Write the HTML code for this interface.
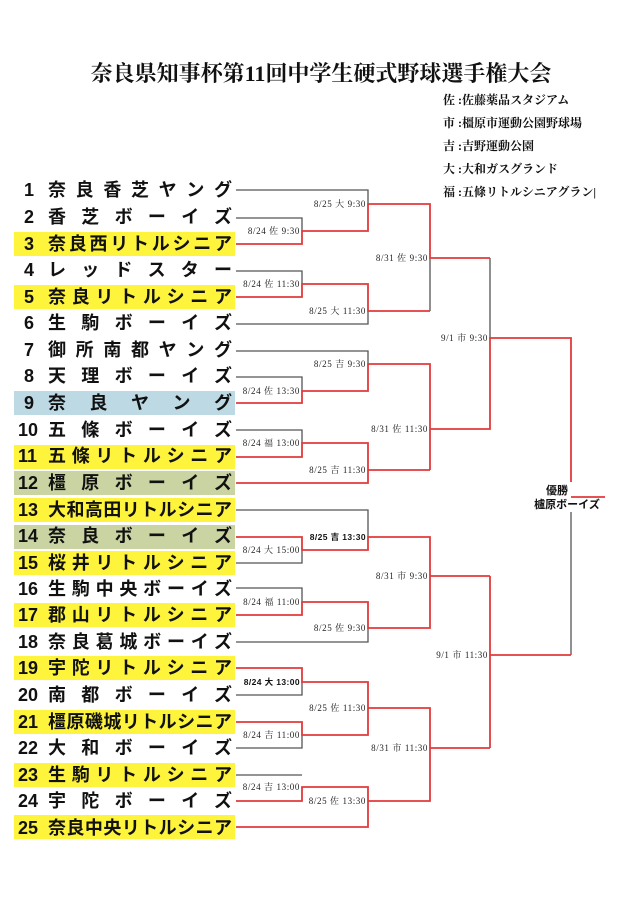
<!DOCTYPE html>
<html><head><meta charset="utf-8"><style>
html,body{margin:0;padding:0;background:#fff}
svg{display:block}
.t{font-family:"Liberation Sans","Noto Sans CJK JP",sans-serif;font-weight:bold;font-size:18px;fill:#111}
.l{font-family:"Liberation Serif","Noto Serif CJK SC",serif;font-size:9px;fill:#222;letter-spacing:0.6px}
.b{font-family:"Liberation Sans","Noto Sans CJK JP",sans-serif;font-size:8.5px;font-weight:bold;fill:#111;letter-spacing:0.4px}
.g{fill:none;stroke:#555;stroke-width:1.3}
.r{fill:none;stroke:#e23a3a;stroke-width:1.8}
</style></head><body>
<svg width="640" height="906" viewBox="0 0 640 906" xmlns="http://www.w3.org/2000/svg">
<text x="321" y="81" text-anchor="middle" font-family="'Liberation Serif','Noto Serif CJK SC',serif" font-size="22" font-weight="bold" fill="#111">奈良県知事杯第11回中学生硬式野球選手権大会</text>
<g font-family="'Liberation Serif','Noto Serif CJK SC',serif" font-size="12" font-weight="bold" fill="#111">
<text x="443" y="104">佐 :佐藤薬品スタジアム</text>
<text x="443" y="127">市 :橿原市運動公園野球場</text>
<text x="443" y="150">吉 :吉野運動公園</text>
<text x="443" y="173">大 :大和ガスグランド</text>
<text x="443" y="196">福 :五條リトルシニアグラン|</text>
</g>
<g>
<rect x="14" y="232" width="221" height="24" fill="#fff43c"/>
<rect x="14" y="285" width="221" height="24" fill="#fff43c"/>
<rect x="14" y="391" width="221" height="24" fill="#bcd9e4"/>
<rect x="14" y="445" width="221" height="24" fill="#fff43c"/>
<rect x="14" y="471" width="221" height="24" fill="#c9d4a2"/>
<rect x="14" y="498" width="221" height="24" fill="#fff43c"/>
<rect x="14" y="525" width="221" height="24" fill="#c9d4a2"/>
<rect x="14" y="551" width="221" height="24" fill="#fff43c"/>
<rect x="14" y="603" width="221" height="24" fill="#fff43c"/>
<rect x="14" y="656" width="221" height="24" fill="#fff43c"/>
<rect x="14" y="710" width="221" height="24" fill="#fff43c"/>
<rect x="14" y="763" width="221" height="24" fill="#fff43c"/>
<rect x="14" y="815" width="221" height="24" fill="#fff43c"/>
</g>
<g class="t" dominant-baseline="central">
<text x="24" y="190">1</text><text x="48" y="190" textLength="184" lengthAdjust="spacing">奈良香芝ヤング</text>
<text x="24" y="217">2</text><text x="48" y="217" textLength="184" lengthAdjust="spacing">香芝ボーイズ</text>
<text x="24" y="244">3</text><text x="48" y="244" textLength="184" lengthAdjust="spacing">奈良西リトルシニア</text>
<text x="24" y="270">4</text><text x="48" y="270" textLength="184" lengthAdjust="spacing">レッドスター</text>
<text x="24" y="297">5</text><text x="48" y="297" textLength="184" lengthAdjust="spacing">奈良リトルシニア</text>
<text x="24" y="323">6</text><text x="48" y="323" textLength="184" lengthAdjust="spacing">生駒ボーイズ</text>
<text x="24" y="350">7</text><text x="48" y="350" textLength="184" lengthAdjust="spacing">御所南都ヤング</text>
<text x="24" y="376">8</text><text x="48" y="376" textLength="184" lengthAdjust="spacing">天理ボーイズ</text>
<text x="24" y="403">9</text><text x="48" y="403" textLength="184" lengthAdjust="spacing">奈良ヤング</text>
<text x="18" y="430">10</text><text x="48" y="430" textLength="184" lengthAdjust="spacing">五條ボーイズ</text>
<text x="18" y="456">11</text><text x="48" y="456" textLength="184" lengthAdjust="spacing">五條リトルシニア</text>
<text x="18" y="483">12</text><text x="48" y="483" textLength="184" lengthAdjust="spacing">橿原ボーイズ</text>
<text x="18" y="510">13</text><text x="48" y="510" textLength="184" lengthAdjust="spacing">大和高田リトルシニア</text>
<text x="18" y="536">14</text><text x="48" y="536" textLength="184" lengthAdjust="spacing">奈良ボーイズ</text>
<text x="18" y="563">15</text><text x="48" y="563" textLength="184" lengthAdjust="spacing">桜井リトルシニア</text>
<text x="18" y="589">16</text><text x="48" y="589" textLength="184" lengthAdjust="spacing">生駒中央ボーイズ</text>
<text x="18" y="615">17</text><text x="48" y="615" textLength="184" lengthAdjust="spacing">郡山リトルシニア</text>
<text x="18" y="642">18</text><text x="48" y="642" textLength="184" lengthAdjust="spacing">奈良葛城ボーイズ</text>
<text x="18" y="668">19</text><text x="48" y="668" textLength="184" lengthAdjust="spacing">宇陀リトルシニア</text>
<text x="18" y="695">20</text><text x="48" y="695" textLength="184" lengthAdjust="spacing">南都ボーイズ</text>
<text x="18" y="722">21</text><text x="48" y="722" textLength="184" lengthAdjust="spacing">橿原磯城リトルシニア</text>
<text x="18" y="748">22</text><text x="48" y="748" textLength="184" lengthAdjust="spacing">大和ボーイズ</text>
<text x="18" y="775">23</text><text x="48" y="775" textLength="184" lengthAdjust="spacing">生駒リトルシニア</text>
<text x="18" y="801">24</text><text x="48" y="801" textLength="184" lengthAdjust="spacing">宇陀ボーイズ</text>
<text x="18" y="828">25</text><text x="48" y="828" textLength="184" lengthAdjust="spacing">奈良中央リトルシニア</text>
</g>
<path class="g" d="M236 190H368V204 M236 218H302V231 M490 258V338 M236 271H302V284 M430 311V258 M368 311V324H236 M236 351H368V364 M236 377H302V391 M236 430H302V443"/>
<path class="r" d="M236 244H302V231H368V204H430V258H490 M236 297H302V284H368V311H430 M236 403H302V391H368V364H430V470 M236 457H302V443H368V483H236 M368 470H430 M430 429H490V338H571V482 M571 497H605"/>
<path class="g" d="M236 510H368V537 M236 563H302V550 M236 588H302V602 M368 628V642H236 M571 512V655 M236 695H302V682 M236 748H302V735 M236 775H302"/>
<path class="r" d="M236 537H302V550H368V537H430V576H490 M236 615H302V602H368V628H430V576 M490 576V748 M490 655H571 M236 668H302V682H368V735H302V722H236 M368 708H430V801H368V827H236 M430 748H490 M236 801H302V787H368V801"/>
<g class="l" text-anchor="end" dominant-baseline="central" xml:space="preserve">
<text x="300" y="231">8/24  佐  9:30</text>
<text x="300" y="284">8/24  佐  11:30</text>
<text x="300" y="391">8/24  佐  13:30</text>
<text x="300" y="443">8/24  福  13:00</text>
<text x="300" y="550">8/24  大  15:00</text>
<text x="300" y="602">8/24  福  11:00</text>
<text x="300" y="735">8/24  吉  11:00</text>
<text x="300" y="787">8/24  吉  13:00</text>
<text x="366" y="204">8/25  大  9:30</text>
<text x="366" y="311">8/25  大  11:30</text>
<text x="366" y="364">8/25  吉  9:30</text>
<text x="366" y="470">8/25  吉  11:30</text>
<text x="366" y="628">8/25  佐  9:30</text>
<text x="366" y="708">8/25  佐  11:30</text>
<text x="366" y="801">8/25  佐  13:30</text>
<text x="428" y="258">8/31  佐  9:30</text>
<text x="428" y="429">8/31  佐  11:30</text>
<text x="428" y="576">8/31  市  9:30</text>
<text x="428" y="748">8/31  市  11:30</text>
<text x="488" y="338">9/1  市  9:30</text>
<text x="488" y="655">9/1  市  11:30</text>
</g>
<g class="b" text-anchor="end" dominant-baseline="central" xml:space="preserve">
<text x="300" y="682">8/24  大  13:00</text>
<text x="366" y="537">8/25  吉  13:30</text>
</g>
<text x="557" y="494" text-anchor="middle" font-family="'Liberation Sans','Noto Sans CJK JP',sans-serif" font-size="11" font-weight="bold" fill="#111">優勝</text>
<text x="567" y="508" text-anchor="middle" font-family="'Liberation Sans','Noto Sans CJK JP',sans-serif" font-size="11" font-weight="bold" fill="#111">櫨原ボーイズ</text>
</svg>
</body></html>
